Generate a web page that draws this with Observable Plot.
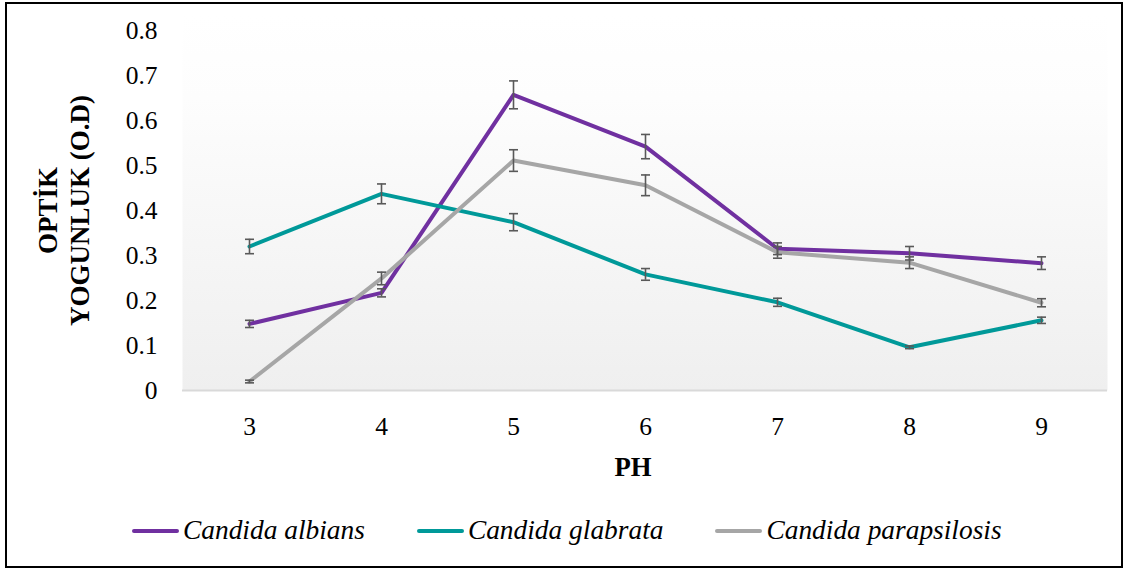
<!DOCTYPE html>
<html>
<head>
<meta charset="utf-8">
<script src="https://cdn.jsdelivr.net/npm/d3@7"></script>
<script src="https://cdn.jsdelivr.net/npm/@observablehq/plot@0.6"></script>
<style>
  html, body { margin: 0; padding: 0; background: #fff; }
  body { width: 1126px; height: 570px; position: relative; overflow: hidden; font-family: "Liberation Serif", "Times New Roman", "DejaVu Serif", serif; }
  #chart { position: absolute; left: 0; top: 0; }
  #chart svg, #chart text { font-family: "Liberation Serif", "Times New Roman", "DejaVu Serif", serif !important; }
  #frame { position: absolute; left: 5px; top: 2px; width: 1118px; height: 566px; box-sizing: border-box; border: 2px solid #000; pointer-events: none; }
  #legend { position: absolute; left: 132px; top: 515px; display: flex; gap: 52px; align-items: center; font-style: italic; font-size: 27.4px; color: #000; font-family: "Liberation Serif", "Times New Roman", "DejaVu Serif", serif; }
  .item { display: flex; align-items: center; white-space: nowrap; }
  .sw { width: 47px; height: 4px; border-radius: 2px; margin-right: 4px; }
</style>
</head>
<body>
<div id="chart"></div>
<div id="legend"></div>
<div id="frame"></div>
<script>
const ph = [3, 4, 5, 6, 7, 8, 9];
const seriesNames = ["Candida albians", "Candida glabrata", "Candida parapsilosis"];
const seriesColors = ["#7030a0", "#009999", "#a6a6a6"];
const albicans = [0.148, 0.217, 0.657, 0.542, 0.315, 0.305, 0.283];
const albicansErr = [0.008, 0.009, 0.031, 0.027, 0.013, 0.015, 0.014];
const glabrata = [0.320, 0.437, 0.374, 0.258, 0.196, 0.096, 0.156];
const glabrataErr = [0.016, 0.022, 0.019, 0.013, 0.009, 0.003, 0.007];
const parapsilosis = [0.020, 0.249, 0.511, 0.456, 0.307, 0.284, 0.195];
const parapsilosisErr = [0.003, 0.014, 0.024, 0.023, 0.013, 0.013, 0.009];
const yTicks = [0, 0.1, 0.2, 0.3, 0.4, 0.5, 0.6, 0.7, 0.8];
const yLabel = "OPTİK\nYOGUNLUK (O.D)";
const xLabel = "PH";

const values = [albicans, glabrata, parapsilosis];
const errs = [albicansErr, glabrataErr, parapsilosisErr];
const rows = [];
seriesNames.forEach((s, k) => ph.forEach((p, i) => rows.push({ph: p, species: s, od: values[k][i], err: errs[k][i]})));

const defs = () => {
  const d = d3.create("svg:defs");
  const g = d.append("linearGradient").attr("id", "bggrad").attr("x1", 0).attr("y1", 0).attr("x2", 0).attr("y2", 1);
  g.append("stop").attr("offset", "0%").attr("stop-color", "#ffffff");
  g.append("stop").attr("offset", "22%").attr("stop-color", "#fdfdfd");
  g.append("stop").attr("offset", "100%").attr("stop-color", "#efefef");
  return d.node();
};

// horizontal cap symbol for error bars
const capSymbol = { draw(context) { context.moveTo(-4.5, 0); context.lineTo(4.5, 0); } };

const errColor = "#595959";
const chart = Plot.plot({
  width: 1126,
  height: 500,
  marginLeft: 182,
  marginRight: 19,
  marginTop: 30,
  marginBottom: 110,
  style: { fontFamily: "'Liberation Serif', 'Times New Roman', 'DejaVu Serif', serif", background: "transparent", overflow: "visible" },
  x: { type: "point", domain: ph, padding: 0.5 },
  y: { domain: [0, 0.8] },
  color: { domain: seriesNames, range: seriesColors },
  marks: [
    defs,
    Plot.frame({ fill: "url(#bggrad)", stroke: "none", insetTop: -15 }),
    Plot.ruleY([0], { stroke: "#d9d9d9", strokeWidth: 2 }),
    Plot.axisY({ ticks: yTicks, tickSize: 0, tickPadding: 25, fontSize: 25.5, tickFormat: d => d === 0 ? "0" : d.toFixed(1), label: null, fill: "#000" }),
    Plot.axisX({ tickSize: 0, tickPadding: 26, fontSize: 25.5, label: null, fill: "#000" }),
    Plot.text([yLabel], { frameAnchor: "left", dx: -119.5, rotate: -90, textAnchor: "middle", lineAnchor: "middle", lineHeight: 1.16, fontWeight: "bold", fontSize: 27, fill: "#000" }),
    Plot.text([xLabel], { frameAnchor: "bottom", dx: -12, dy: 77, lineAnchor: "middle", fontWeight: "bold", fontSize: 26.7, fill: "#000" }),
    Plot.line(rows, { x: "ph", y: "od", z: "species", stroke: "species", strokeWidth: 4, strokeLinejoin: "round", strokeLinecap: "round" }),
    Plot.ruleX(rows, { x: "ph", y1: d => d.od - d.err, y2: d => d.od + d.err, stroke: errColor, strokeWidth: 1.6 }),
    Plot.dot(rows, { x: "ph", y: d => d.od + d.err, symbol: capSymbol, r: 4.5, fill: "none", stroke: errColor, strokeWidth: 1.6 }),
    Plot.dot(rows, { x: "ph", y: d => d.od - d.err, symbol: capSymbol, r: 4.5, fill: "none", stroke: errColor, strokeWidth: 1.6 })
  ]
});
document.getElementById("chart").appendChild(chart);

const legend = document.getElementById("legend");
seriesNames.forEach((s, k) => {
  const item = document.createElement("div");
  item.className = "item";
  const sw = document.createElement("span");
  sw.className = "sw";
  sw.style.background = seriesColors[k];
  const t = document.createElement("span");
  t.textContent = s;
  item.appendChild(sw);
  item.appendChild(t);
  legend.appendChild(item);
});
</script>
</body>
</html>
